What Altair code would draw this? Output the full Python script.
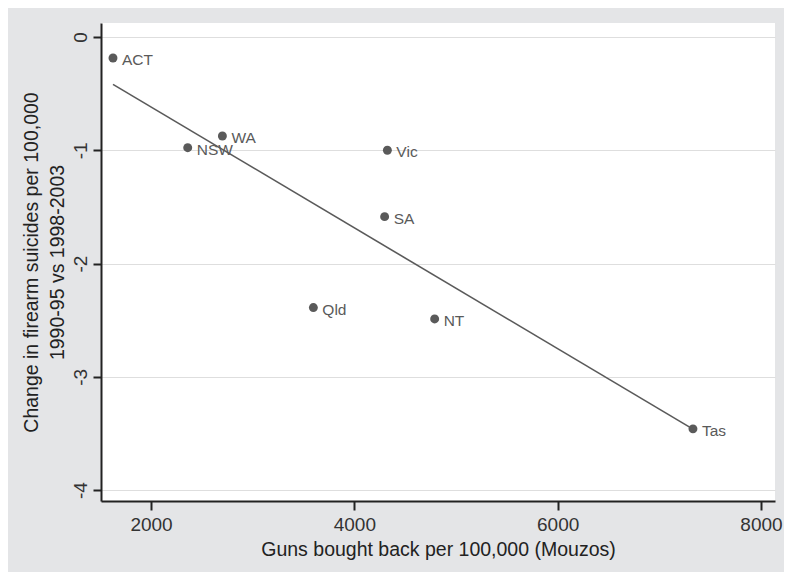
import altair as alt
import pandas as pd

states = ["ACT", "NSW", "WA", "Vic", "SA", "Qld", "NT", "Tas"]
guns_bought = [1626, 2361, 2702, 4325, 4298, 3597, 4790, 7331]
suicide_change = [-0.185, -0.977, -0.874, -1.0, -1.586, -2.389, -2.489, -3.46]

df = pd.DataFrame({"state": states, "x": guns_bought, "y": suicide_change})

FONT = "Liberation Sans"
DARK = "#5a5a5a"

xscale = alt.Scale(domain=[1508, 8138], nice=False, zero=False)
yscale = alt.Scale(domain=[-4.097, 0.124], nice=False, zero=False)

xaxis = alt.Axis(
    title="Guns bought back per 100,000 (Mouzos)",
    values=[2000, 4000, 6000, 8000],
    labelExpr="'' + datum.value",
    grid=False,
    domain=True, domainColor="#222222", domainWidth=2,
    ticks=True, tickColor="#222222", tickWidth=2, tickSize=9,
    labelFont=FONT, labelFontSize=19, labelColor="#333333", labelPadding=5,
    titleFont=FONT, titleFontSize=19.5, titleFontWeight="normal", titleColor="#222222",
    titlePadding=6,
)
yaxis = alt.Axis(
    title=["Change in firearm suicides per 100,000", "1990-95 vs 1998-2003"],
    values=[0, -1, -2, -3, -4],
    labelExpr="'' + datum.value",
    grid=True, gridColor="#dedede", gridWidth=1.2,
    domain=True, domainColor="#222222", domainWidth=2,
    ticks=True, tickColor="#222222", tickWidth=2, tickSize=8,
    labelAngle=270, labelAlign="center", labelBaseline="alphabetic",
    labelFont=FONT, labelFontSize=19, labelColor="#333333", labelPadding=7,
    titleFont=FONT, titleFontSize=19.5, titleFontWeight="normal", titleColor="#222222",
    titleLineHeight=26, titlePadding=4,
)

base = alt.Chart(df)

points = base.mark_circle(size=80, color=DARK, opacity=1).encode(
    x=alt.X("x:Q", scale=xscale, axis=xaxis),
    y=alt.Y("y:Q", scale=yscale, axis=yaxis),
)

labels = base.mark_text(
    align="left", baseline="middle", dx=9, dy=2,
    font=FONT, fontSize=15.5, color=DARK,
).encode(
    x=alt.X("x:Q", scale=xscale),
    y=alt.Y("y:Q", scale=yscale),
    text="state:N",
)

fit = base.transform_regression("x", "y").mark_line(color=DARK, strokeWidth=1.6).encode(
    x=alt.X("x:Q", scale=xscale),
    y=alt.Y("y:Q", scale=yscale),
)

chart = (
    alt.layer(fit, points, labels)
    .properties(
        width=674,
        height=478,
        autosize=alt.AutoSizeParams(type="none"),
        padding={"left": 93, "top": 15, "right": 9, "bottom": 71},
        background="#e4e5e7",
    )
    .configure_view(fill="white", stroke=None)
)

chart.save("out.html", embed_options={"renderer": "svg", "actions": False})
